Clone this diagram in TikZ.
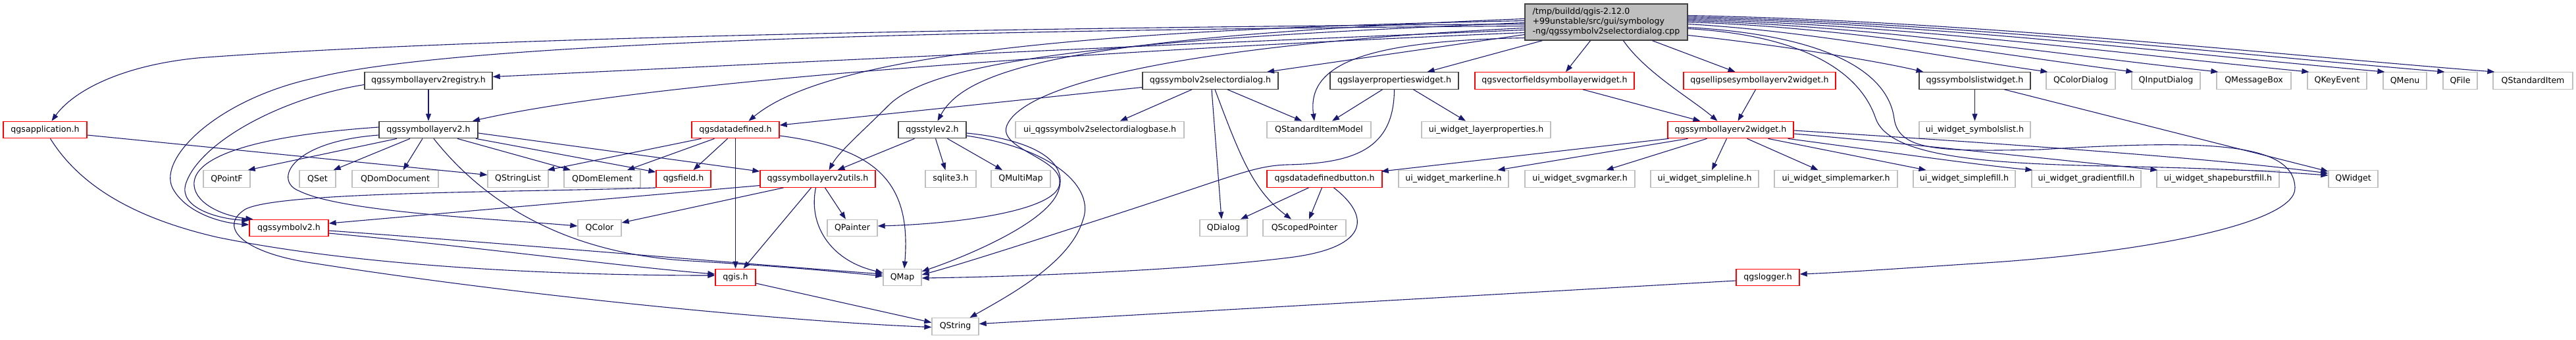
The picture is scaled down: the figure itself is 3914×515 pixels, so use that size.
\documentclass[tikz,border=0pt]{standalone}
\usepackage{fontspec}
\setmainfont{DejaVu Sans}
\usetikzlibrary{arrows.meta}
\definecolor{edgec}{HTML}{191970}
\definecolor{redc}{HTML}{FF0000}
\definecolor{grayc}{HTML}{BFBFBF}
\definecolor{blackc}{HTML}{404040}
\definecolor{rootfill}{HTML}{BFBFBF}
\begin{document}
\begin{tikzpicture}[x=1pt,y=-1pt,
  nd/.style={draw, line width=1.3pt, inner xsep=0pt, inner ysep=0pt, minimum height=25.5pt, font=\fontsize{12.6pt}{15pt}\selectfont, fill=white, text=black},
  gr/.style={nd, draw=grayc},
  rd/.style={nd, draw=redc},
  bk/.style={nd, draw=blackc},
  conn/.style={draw=edgec, line width=1.1pt, -{Triangle[length=11pt,width=8pt]}}]
\fill[white] (0,0) rectangle (3914,515);
\useasboundingbox (0,0) rectangle (3914,515);

% root
\node[bk, fill=rootfill, minimum width=247pt, minimum height=55pt, align=left] (root) at (2440.5,33.5) {/tmp/buildd/qgis-2.12.0\\+99unstable/src/gui/symbology\\-ng/qgssymbolv2selectordialog.cpp};

% row 1
\node[bk, minimum width=194pt] (reg) at (651,122.5) {qgssymbollayerv2registry.h};
\node[bk, minimum width=206pt] (seldlg) at (1839,122.5) {qgssymbolv2selectordialog.h};
\node[bk, minimum width=195pt] (lpw) at (2118.5,122.5) {qgslayerpropertieswidget.h};
\node[rd, minimum width=242pt] (vfw) at (2362,122.5) {qgsvectorfieldsymbollayerwidget.h};
\node[rd, minimum width=231pt] (elw) at (2673.5,122.5) {qgsellipsesymbollayerv2widget.h};
\node[bk, minimum width=169pt] (slw) at (3000.5,122.5) {qgssymbolslistwidget.h};
\node[gr, minimum width=105pt] (qcd) at (3161.5,122.5) {QColorDialog};
\node[gr, minimum width=104pt] (qid) at (3291,122.5) {QInputDialog};
\node[gr, minimum width=113pt] (qmb) at (3424.5,122.5) {QMessageBox};
\node[gr, minimum width=90pt] (qke) at (3551,122.5) {QKeyEvent};
\node[gr, minimum width=66pt] (qmenu) at (3654,122.5) {QMenu};
\node[gr, minimum width=52pt] (qfile) at (3738,122.5) {QFile};
\node[gr, minimum width=121pt] (qsi) at (3848.5,122.5) {QStandardItem};

% row 2
\node[rd, minimum width=127pt] (app) at (68.5,197) {qgsapplication.h};
\node[bk, minimum width=150pt] (sl) at (651,197) {qgssymbollayerv2.h};
\node[rd, minimum width=133pt] (dd) at (1117.5,197) {qgsdatadefined.h};
\node[bk, minimum width=103pt] (style) at (1416.5,197) {qgsstylev2.h};
\node[gr, minimum width=256pt] (uisel) at (1671,197) {ui\_qgssymbolv2selectordialogbase.h};
\node[gr, minimum width=158pt] (qsim) at (2004,197) {QStandardItemModel};
\node[gr, minimum width=196pt] (uilp) at (2258,197) {ui\_widget\_layerproperties.h};
\node[rd, minimum width=191pt] (slwid) at (2629.5,197) {qgssymbollayerv2widget.h};
\node[gr, minimum width=169pt] (uisl) at (3000.5,197) {ui\_widget\_symbolslist.h};

% row 3
\node[gr, minimum width=71pt] (qpointf) at (344.5,271.5) {QPointF};
\node[gr, minimum width=55pt] (qset) at (482.5,271.5) {QSet};
\node[gr, minimum width=131pt] (qdomdoc) at (600.5,271.5) {QDomDocument};
\node[gr, minimum width=92pt] (qsl) at (787,271.5) {QStringList};
\node[gr, minimum width=116pt] (qdomel) at (915,271.5) {QDomElement};
\node[rd, minimum width=83pt] (field) at (1038.5,271.5) {qgsfield.h};
\node[rd, minimum width=175pt] (utils) at (1242.5,271.5) {qgssymbollayerv2utils.h};
\node[gr, minimum width=77pt] (sqlite) at (1444.5,271.5) {sqlite3.h};
\node[gr, minimum width=90pt] (qmm) at (1551,271.5) {QMultiMap};
\node[rd, minimum width=175pt] (ddb) at (2012.5,271.5) {qgsdatadefinedbutton.h};
\node[gr, minimum width=167pt] (uiml) at (2208.5,271.5) {ui\_widget\_markerline.h};
\node[gr, minimum width=167pt] (uisvg) at (2400.5,271.5) {ui\_widget\_svgmarker.h};
\node[gr, minimum width=164pt] (uisline) at (2590,271.5) {ui\_widget\_simpleline.h};
\node[gr, minimum width=187pt] (uismark) at (2789.5,271.5) {ui\_widget\_simplemarker.h};
\node[gr, minimum width=155pt] (uisfill) at (2984.5,271.5) {ui\_widget\_simplefill.h};
\node[gr, minimum width=166pt] (uigfill) at (3170,271.5) {ui\_widget\_gradientfill.h};
\node[gr, minimum width=186pt] (uisbf) at (3370,271.5) {ui\_widget\_shapeburstfill.h};
\node[gr, minimum width=75pt] (qwidget) at (3575.5,271.5) {QWidget};

% row 4
\node[rd, minimum width=120pt] (sym) at (439,346) {qgssymbolv2.h};
\node[gr, minimum width=66pt] (qcolor) at (911,346) {QColor};
\node[gr, minimum width=76pt] (qpainter) at (1295,346) {QPainter};
\node[gr, minimum width=72pt] (qdialog) at (1859,346) {QDialog};
\node[gr, minimum width=126pt] (qsp) at (1982,346) {QScopedPointer};

% row 5
\node[rd, minimum width=61pt] (qgis) at (1117.5,421) {qgis.h};
\node[gr, minimum width=58pt] (qmap) at (1371,421) {QMap};
\node[rd, minimum width=96pt] (logger) at (2686,421) {qgslogger.h};

% row 6
\node[gr, minimum width=71pt] (qstring) at (1451.5,495.5) {QString};

% ---- edges from root, west side
\draw[conn] ([yshift=-3pt]root.west) .. controls (1500,42) and (700,58) .. (300,88) .. controls (180,100) and (110,140) .. ([xshift=10pt]app.north);
\draw[conn] ([yshift=-12pt]root.west) .. controls (1700,70) and (1100,100) .. ([yshift=6pt]reg.east);
\draw[conn] ([yshift=-16pt]root.west) .. controls (1700,75) and (1000,120) .. ([xshift=67pt]sl.north);
\draw[conn] ([yshift=-6pt]root.west) .. controls (1500,45) and (700,62) .. (480,118) .. controls (330,150) and (240,240) .. (262,285) .. controls (280,320) and (330,338) .. ([yshift=5pt]sym.west);
\draw[conn] ([yshift=2pt]root.west) .. controls (1600,45) and (1250,90) .. ([xshift=20pt]dd.north);
\draw[conn] ([yshift=5pt]root.west) .. controls (1650,55) and (1470,100) .. ([xshift=8pt]style.north);
\draw[conn] ([yshift=-1pt]root.west) .. controls (1700,60) and (1420,90) .. (1350,160) .. controls (1310,200) and (1275,230) .. ([xshift=17pt]utils.north);
\draw[conn] ([yshift=-9pt]root.west) .. controls (1850,65) and (1560,120) .. (1530,190) .. controls (1515,225) and (1610,240) .. (1610,275) .. controls (1615,320) and (1450,340) .. ([yshift=3pt]qpainter.east);
\draw[conn] ([yshift=-19pt]root.west) -- ([xshift=86pt]seldlg.north);
\draw[conn] ([yshift=-24pt]root.west) .. controls (2080,62) and (1985,95) .. ([xshift=-7pt]qsim.north);

% ---- edges from root, bottom
\draw[conn] ([xshift=-97pt]root.south) -- ([xshift=50pt]lpw.north);
\draw[conn] ([xshift=-24pt]root.south) -- ([xshift=17pt]vfw.north);
\draw[conn] ([xshift=26pt]root.south) .. controls (2500,110) and (2570,150) .. ([xshift=-20pt]slwid.north);
\draw[conn] ([xshift=70pt]root.south) -- ([xshift=-37pt]elw.north);

% ---- edges from root, east side
\draw[conn] ([yshift=10pt]root.east) .. controls (2993,32) and (3423,80) .. ([xshift=3pt]qsi.north west);
\draw[conn] ([yshift=8pt]root.east) .. controls (2967,34) and (3370,80.5) .. ([xshift=3pt]qfile.north west);
\draw[conn] ([yshift=6pt]root.east) .. controls (2935,35.5) and (3306,81) .. ([xshift=3pt]qmenu.north west);
\draw[conn] ([yshift=4pt]root.east) .. controls (2895,37.5) and (3226,82) .. ([xshift=3pt]qke.north west);
\draw[conn] ([yshift=2pt]root.east) .. controls (2846,39) and (3129,83) .. ([xshift=3pt]qmb.north west);
\draw[conn] (root.east) .. controls (2801,41) and (3039,83) .. ([xshift=3pt]qid.north west);
\draw[conn] ([yshift=-3pt]root.east) .. controls (2756,47.5) and (2948,86) .. ([xshift=3pt]qcd.north west);
\draw[conn] ([yshift=-20pt]root.east) .. controls (2700,68) and (2850,92) .. ([xshift=-78pt]slw.north);
\draw[conn] ([yshift=-10pt]root.east) .. controls (2760,55) and (2830,120) .. (2850,180) .. controls (2870,235) and (3000,248) .. (3200,252) .. controls (3400,256) and (3480,262) .. ([yshift=-8pt]qwidget.north west);
\draw[conn] ([yshift=-8pt]root.east) .. controls (2800,55) and (2870,120) .. (2878,180) .. controls (2885,230) and (2950,230) .. (3100,227) .. controls (3350,212) and (3485,215) .. (3487,285) .. controls (3489,340) and (3250,385) .. (3000,400) .. controls (2880,408) and (2790,414) .. ([yshift=5pt]logger.east);

% ---- registry
\draw[conn] (reg.south) -- (sl.north);
\draw[conn] ([yshift=-6pt]reg.west) .. controls (420,150) and (300,220) .. (282,280) .. controls (272,315) and (330,332) .. ([yshift=-2pt]sym.north west);

% ---- qgssymbollayerv2.h
\draw[conn] ([yshift=4pt]sl.west) .. controls (400,205) and (290,235) .. (295,282) .. controls (298,310) and (340,328) .. ([xshift=6pt]sym.north west);
\draw[conn] ([yshift=-8pt]sl.west) .. controls (440,215) and (415,275) .. (455,290) .. controls (520,322) and (750,332) .. ([yshift=3pt]qcolor.west);
\draw[conn] ([xshift=-48pt]sl.south) -- ([xshift=-4pt]qpointf.north east);
\draw[conn] ([xshift=-28pt]sl.south) -- ([xshift=-4pt]qset.north east);
\draw[conn] ([xshift=-9pt]sl.south) -- ([xshift=12pt]qdomdoc.north);
\draw[conn] ([xshift=8pt]sl.south) .. controls (730,300) and (850,385) .. (1050,396) .. controls (1200,405) and (1290,414) .. ([yshift=2pt]qmap.west);
\draw[conn] ([xshift=44pt]sl.south) -- ([xshift=-48pt]qdomel.north);
\draw[conn] ([xshift=72pt]sl.south) -- ([yshift=-3pt]field.north west);
\draw[conn] ([yshift=-5pt]sl.east) -- ([yshift=-2pt]utils.north west);

% ---- qgsapplication.h
\draw[conn] ([yshift=-8pt]app.east) -- ([yshift=6pt]qsl.west);
\draw[conn] ([xshift=8pt]app.south) .. controls (120,280) and (200,330) .. (330,360) .. controls (550,405) and (850,418) .. ([yshift=3pt]qgis.west);

% ---- qgsfield.h
\draw[conn] (field.south west) .. controls (800,292) and (420,290) .. (372,318) .. controls (330,345) and (370,385) .. (480,400) .. controls (800,450) and (1200,488) .. ([yshift=-1pt]qstring.west);

% ---- qgssymbolv2.h
\draw[conn] ([yshift=-8pt]sym.east) .. controls (700,372) and (950,405) .. ([yshift=5pt]qgis.west);
\draw[conn] ([yshift=-4pt]sym.east) .. controls (750,368) and (1100,398) .. ([yshift=5pt]qmap.west);

% ---- utils
\draw[conn] ([yshift=-10pt]utils.west) -- ([yshift=7pt]sym.east);
\draw[conn] ([xshift=-52pt]utils.south) -- ([yshift=8pt]qcolor.east);
\draw[conn] ([xshift=-10pt]utils.south) -- ([xshift=12pt]qgis.north);
\draw[conn] ([xshift=11pt]utils.south) -- ([xshift=-10pt]qpainter.north);
\draw[conn] ([xshift=-3pt]utils.south) .. controls (1228,340) and (1260,395) .. ([yshift=7pt]qmap.west);

% ---- qgsdatadefined.h
\draw[conn] ([xshift=-12pt]dd.south) -- ([xshift=15pt]field.north);
\draw[conn] ([xshift=-32pt]dd.south) -- ([xshift=38pt]qdomel.north);
\draw[conn] ([xshift=-52pt]dd.south) -- ([xshift=-2pt]qsl.north east);
\draw[conn] (dd.south) -- (qgis.north);
\draw[conn] ([yshift=-9pt]dd.east) .. controls (1330,225) and (1385,275) .. ([xshift=3pt]qmap.north);

% ---- qgsstylev2.h
\draw[conn] ([xshift=-27pt]style.south) -- ([xshift=30pt]utils.north);
\draw[conn] ([xshift=5pt]style.south) -- ([xshift=-8pt]sqlite.north);
\draw[conn] ([xshift=23pt]style.south) -- ([xshift=-28pt]qmm.north);
\draw[conn] ([yshift=-5pt]style.east) .. controls (1570,212) and (1625,245) .. (1608,290) .. controls (1590,340) and (1460,392) .. ([yshift=9pt]qmap.east);
\draw[conn] ([yshift=-9pt]style.east) .. controls (1600,225) and (1665,285) .. (1645,335) .. controls (1625,400) and (1530,450) .. ([xshift=22pt]qstring.north);

% ---- selector dialog
\draw[conn] ([yshift=-10pt]seldlg.west) -- ([yshift=7pt]dd.east);
\draw[conn] ([xshift=-28pt]seldlg.south) -- ([xshift=31pt]uisel.north);
\draw[conn] ([xshift=26pt]seldlg.south) -- ([xshift=-26pt]qsim.north);
\draw[conn] ([xshift=2pt]seldlg.south) -- ([xshift=-3pt]qdialog.north);
\draw[conn] ([xshift=7pt]seldlg.south) .. controls (1885,240) and (1905,290) .. ([xshift=-20pt]qsp.north);

% ---- layer properties widget
\draw[conn] ([xshift=-18pt]lpw.south) -- ([xshift=20pt]qsim.north);
\draw[conn] ([xshift=29pt]lpw.south) -- ([xshift=-31pt]uilp.north);
\draw[conn] (lpw.south) .. controls (2118,225) and (2060,248) .. (1955,250) .. controls (1900,252) and (1870,270) .. (1640,343) .. controls (1510,385) and (1445,405) .. ([yshift=4pt]qmap.east);

% ---- data defined button
\draw[conn] ([xshift=-24pt]ddb.south) -- ([xshift=26pt]qdialog.north);
\draw[conn] ([xshift=-4pt]ddb.south) -- ([xshift=7pt]qsp.north);
\draw[conn] ([xshift=14pt]ddb.south) .. controls (2085,330) and (2080,378) .. (1950,392) .. controls (1800,410) and (1550,420) .. ([yshift=-1pt]qmap.east);

% ---- widgets
\draw[conn] ([xshift=43pt]vfw.south) -- ([xshift=-46pt]slwid.north);
\draw[conn] ([xshift=-6pt]elw.south) -- ([xshift=11pt]slwid.north);
\draw[conn] (slw.south) -- (uisl.north);
\draw[conn] ([xshift=45pt]slw.south) -- ([yshift=-2pt]qwidget.north west);

% ---- symbol layer widget
\draw[conn] ([xshift=-94pt]slwid.south) -- ([xshift=-2pt,yshift=-2pt]ddb.north east);
\draw[conn] ([xshift=-65pt]slwid.south) -- ([xshift=67pt]uiml.north);
\draw[conn] ([xshift=-36pt]slwid.south) -- ([xshift=40pt]uisvg.north);
\draw[conn] ([xshift=-6pt]slwid.south) -- ([xshift=11pt]uisline.north);
\draw[conn] ([xshift=25pt]slwid.south) -- ([xshift=-27pt]uismark.north);
\draw[conn] ([xshift=57pt]slwid.south) -- ([xshift=-58pt]uisfill.north);
\draw[conn] ([xshift=87pt]slwid.south) .. controls (2850,228) and (3000,250) .. ([xshift=2pt]uigfill.north west);
\draw[conn] ([yshift=-6pt]slwid.east) .. controls (2900,218) and (3150,245) .. ([xshift=2pt]uisbf.north west);
\draw[conn] ([yshift=-1pt]slwid.east) .. controls (2950,212) and (3350,238) .. ([yshift=-5pt]qwidget.north west);

% ---- to QString
\draw[conn] ([yshift=-9pt]qgis.east) -- ([yshift=6pt]qstring.west);
\draw[conn] ([yshift=-5pt]logger.west) -- ([yshift=4pt]qstring.east);
\end{tikzpicture}
\end{document}
